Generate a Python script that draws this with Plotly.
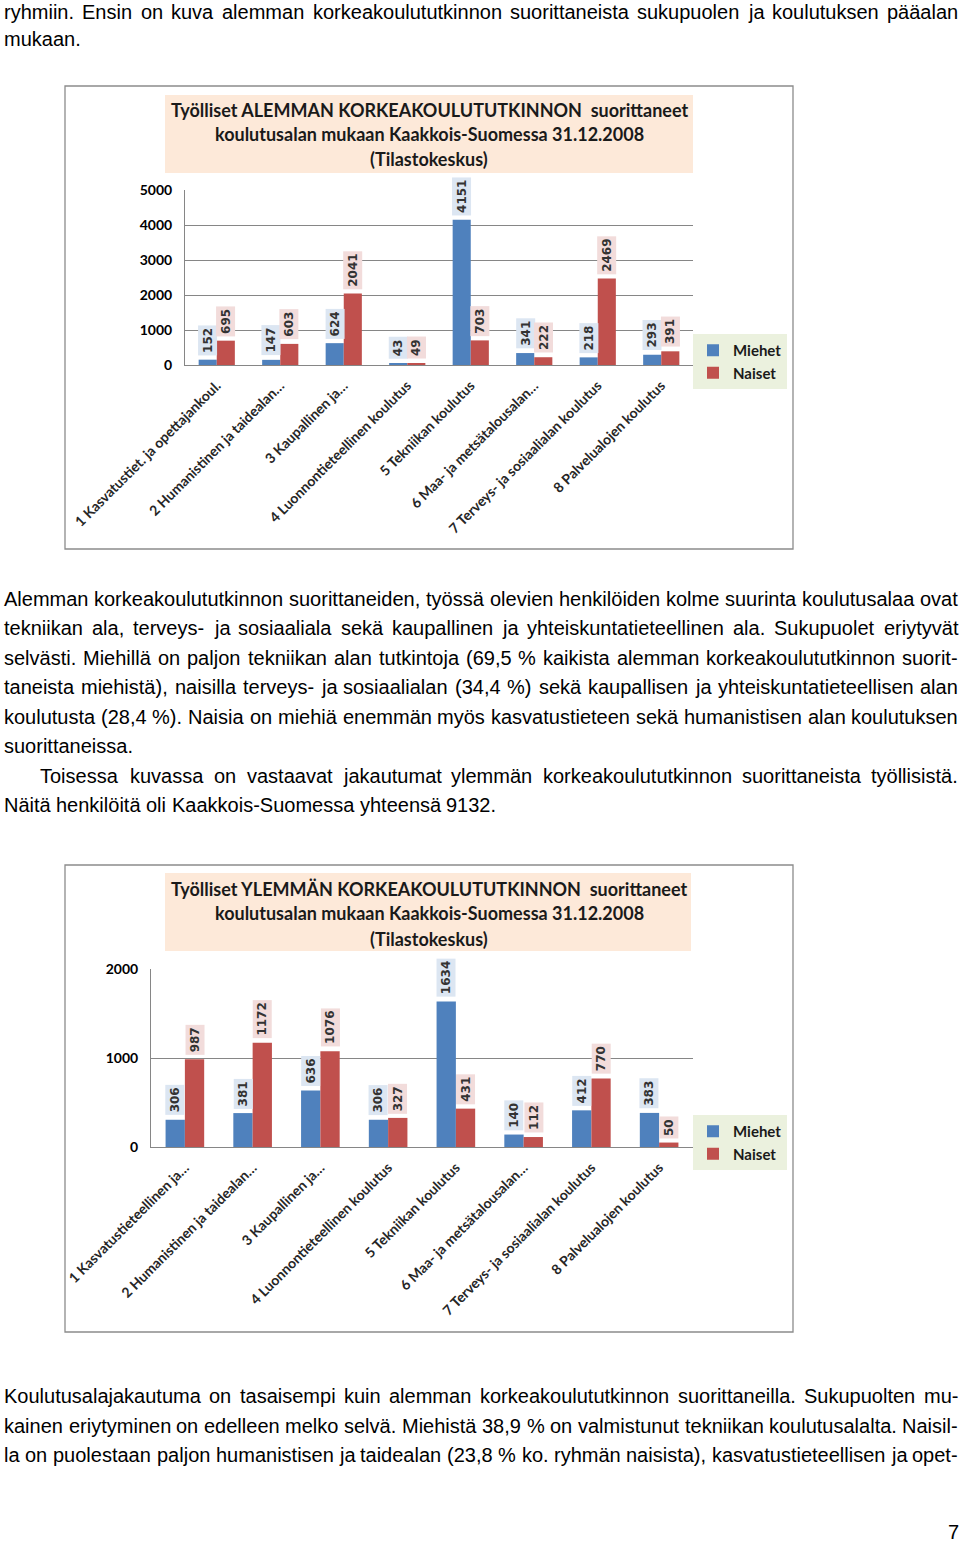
import plotly.graph_objects as go
from plotly.subplots import make_subplots

W, H = 960, 1543

# data
alalyhyt_alempi = ["1 Kasvatustiet. ja opettajankoul.", "2 Humanistinen ja taidealan…", "3 Kaupallinen ja…",
                   "4 Luonnontieteellinen koulutus", "5 Tekniikan koulutus", "6 Maa- ja metsätalousalan…",
                   "7 Terveys- ja sosiaalialan koulutus", "8 Palvelualojen koulutus"]
miehet_alempi = [152, 147, 624, 43, 4151, 341, 218, 293]
naiset_alempi = [695, 603, 2041, 49, 703, 222, 2469, 391]

alalyhyt_ylempi = ["1 Kasvatustieteellinen ja…", "2 Humanistinen ja taidealan…", "3 Kaupallinen ja…",
                   "4 Luonnontieteellinen koulutus", "5 Tekniikan koulutus", "6 Maa- ja metsätalousalan…",
                   "7 Terveys- ja sosiaalialan koulutus", "8 Palvelualojen koulutus"]
miehet_ylempi = [306, 381, 636, 306, 1634, 140, 412, 383]
naiset_ylempi = [987, 1172, 1076, 327, 431, 112, 770, 50]

otsikko_alempi = ["Työlliset ALEMMAN KORKEAKOULUTUTKINNON  suorittaneet",
                  "koulutusalan mukaan Kaakkois-Suomessa 31.12.2008", "(Tilastokeskus)"]
otsikko_ylempi = ["Työlliset YLEMMÄN KORKEAKOULUTUTKINNON  suorittaneet",
                  "koulutusalan mukaan Kaakkois-Suomessa 31.12.2008", "(Tilastokeskus)"]

# page text: (text, y centre, justified, indent)
rivit = [
    ("ryhmiin. Ensin on kuva alemman korkeakoulututkinnon suorittaneista sukupuolen ja koulutuksen pääalan", 12, True, 0),
    ("mukaan.", 39, False, 0),
    ("Alemman korkeakoulututkinnon suorittaneiden, työssä olevien henkilöiden kolme suurinta koulutusalaa ovat", 599, True, 0),
    ("tekniikan ala, terveys- ja sosiaaliala sekä kaupallinen ja yhteiskuntatieteellinen ala. Sukupuolet eriytyvät", 628, True, 0),
    ("selvästi. Miehillä on paljon tekniikan alan tutkintoja (69,5 % kaikista alemman korkeakoulututkinnon suorit-", 658, True, 0),
    ("taneista miehistä), naisilla terveys- ja sosiaalialan (34,4 %) sekä kaupallisen ja yhteiskuntatieteellisen alan", 687, True, 0),
    ("koulutusta (28,4 %). Naisia on miehiä enemmän myös kasvatustieteen sekä humanistisen alan koulutuksen", 717, True, 0),
    ("suorittaneissa.", 746, False, 0),
    ("Toisessa kuvassa on vastaavat jakautumat ylemmän korkeakoulututkinnon suorittaneista työllisistä.", 776, True, 36),
    ("Näitä henkilöitä oli Kaakkois-Suomessa yhteensä 9132.", 805, False, 0),
    ("Koulutusalajakautuma on tasaisempi kuin alemman korkeakoulututkinnon suorittaneilla. Sukupuolten mu-", 1396, True, 0),
    ("kainen eriytyminen on edelleen melko selvä. Miehistä 38,9 % on valmistunut tekniikan koulutusalalta. Naisil-", 1426, True, 0),
    ("la on puolestaan paljon humanistisen ja taidealan (23,8 % ko. ryhmän naisista), kasvatustieteellisen ja opet-", 1455, True, 0),
]

SININEN = "#4F81BD"
PUNAINEN = "#C0504D"


def px(x, y):
    return x / W, 1 - y / H


# Arial / Liberation Sans widths (per 1000 em)
LEVEYS = {' ': 278, '%': 889, '(': 333, ')': 333, ',': 278, '-': 333, '.': 278, ':': 278,
          'a': 556, 'b': 556, 'c': 500, 'd': 556, 'e': 556, 'f': 278, 'g': 556, 'h': 556, 'i': 222,
          'j': 222, 'k': 500, 'l': 222, 'm': 833, 'n': 556, 'o': 556, 'p': 556, 'q': 556, 'r': 333,
          's': 500, 't': 278, 'u': 556, 'v': 500, 'w': 722, 'x': 500, 'y': 500, 'z': 500, 'ä': 556,
          'ö': 556, 'A': 667, 'K': 667, 'M': 833, 'N': 722, 'S': 667, 'T': 611, 'E': 667, 'O': 778}


def leveys(s, koko):
    return sum(LEVEYS.get(c, 556) for c in s) * koko / 1000


fig = make_subplots(rows=2, cols=1)

fig.add_trace(go.Bar(x=alalyhyt_alempi, y=miehet_alempi, name="Miehet", marker_color=SININEN,
                     legend="legend", legendgroup="m"), row=1, col=1)
fig.add_trace(go.Bar(x=alalyhyt_alempi, y=naiset_alempi, name="Naiset", marker_color=PUNAINEN,
                     legend="legend", legendgroup="n"), row=1, col=1)
fig.add_trace(go.Bar(x=alalyhyt_ylempi, y=miehet_ylempi, name="Miehet", marker_color=SININEN,
                     legend="legend2", legendgroup="m2"), row=2, col=1)
fig.add_trace(go.Bar(x=alalyhyt_ylempi, y=naiset_ylempi, name="Naiset", marker_color=PUNAINEN,
                     legend="legend2", legendgroup="n2"), row=2, col=1)
fig.update_traces(marker_line_width=0)

akselifontti = dict(family="Lato", size=14, color="#000000", weight="bold")
kategoriafontti = dict(family="Lato", size=14, color="#262626", weight="bold")
x_yhteinen = dict(tickangle=-45, tickfont=kategoriafontti, showline=True, linecolor="#868686",
                  showgrid=False, ticks="", ticklabelstandoff=6, fixedrange=True, automargin=False)
y_yhteinen = dict(dtick=1000, showgrid=True, gridcolor="#868686", gridwidth=1, showline=True,
                  linecolor="#868686", zeroline=False, ticks="", tickfont=akselifontti,
                  ticklabelstandoff=9, fixedrange=True, automargin=False)

x1a, y1a = px(185, 365)
x1b, y1b = px(693, 190)
x2a, y2a = px(151, 1147)
x2b, y2b = px(693, 969)
fig.update_layout(
    xaxis=dict(domain=[x1a, x1b], **x_yhteinen),
    yaxis=dict(domain=[y1a, y1b], range=[0, 5000], **y_yhteinen),
    xaxis2=dict(domain=[x2a, x2b], **x_yhteinen),
    yaxis2=dict(domain=[y2a, y2b], range=[0, 2000], **y_yhteinen),
)

legendafontti = dict(family="Lato", size=15, color="#1a1a1a", weight="bold")
lx, ly = px(787, 334)
l2x, l2y = px(787, 1115)
fig.update_layout(
    legend=dict(x=lx, y=ly, xanchor="right", yanchor="top", bgcolor="#EBF1DE", font=legendafontti,
                tracegroupgap=6, itemwidth=30, traceorder="normal"),
    legend2=dict(x=l2x, y=l2y, xanchor="right", yanchor="top", bgcolor="#EBF1DE", font=legendafontti,
                 tracegroupgap=6, itemwidth=30, traceorder="normal"),
)

shapes = []
for (bx0, by0, bx1, by1) in [(65, 86, 793, 549), (65, 865, 793, 1332)]:
    a, b = px(bx0, by0)
    c, d = px(bx1, by1)
    shapes.append(dict(type="rect", xref="paper", yref="paper", x0=a, y0=b, x1=c, y1=d,
                       line=dict(color="#8c8c8c", width=1.3), layer="below"))
for (bx0, by0, bx1, by1) in [(165, 95, 693, 173), (165, 873, 691, 951)]:
    a, b = px(bx0, by0)
    c, d = px(bx1, by1)
    shapes.append(dict(type="rect", xref="paper", yref="paper", x0=a, y0=b, x1=c, y1=d,
                       fillcolor="#FDE9D9", line=dict(width=0), layer="below"))

annotations = []

# chart titles
for rivit_otsikko, ykoord in [(otsikko_alempi, [110, 134, 159]), (otsikko_ylempi, [889, 913, 939])]:
    for teksti, yy in zip(rivit_otsikko, ykoord):
        a, b = px(429, yy)
        annotations.append(dict(x=a, y=b, xref="paper", yref="paper", text=teksti, showarrow=False,
                                xanchor="center", yanchor="middle",
                                font=dict(family="Lato", size=18, color="#1a1a1a", weight="bold")))

# data labels
arvofontti = dict(family="DejaVu Sans", size=12, color="#333333", weight="bold")
for xr, yr, mies, nainen, siirto in [("x", "y", miehet_alempi, naiset_alempi, 9),
                                     ("x2", "y2", miehet_ylempi, naiset_ylempi, 9.8)]:
    for i in range(len(mies)):
        for arvo, s, tausta in [(mies[i], -siirto, "#DCE6F2"), (nainen[i], siirto, "#F2DCDB")]:
            annotations.append(dict(x=i, y=arvo, xref=xr, yref=yr, xshift=s, yshift=4, text=str(arvo),
                                    showarrow=False, textangle=-90, xanchor="center", yanchor="bottom",
                                    bgcolor=tausta, borderpad=2, font=arvofontti))

# page text, justified word by word
KOKO = 20
VASEN, OIKEA = 4, 958
tekstifontti = dict(family="Liberation Sans", size=KOKO, color="#000000")
for teksti, yy, tasattu, sisennys in rivit:
    sanat = teksti.split(" ")
    lev = [leveys(s, KOKO) for s in sanat]
    if tasattu and len(sanat) > 1:
        vali = (OIKEA - VASEN - sisennys - sum(lev)) / (len(sanat) - 1)
    else:
        vali = leveys(" ", KOKO)
    xx = VASEN + sisennys
    for s, l in zip(sanat, lev):
        a, b = px(xx, yy)
        annotations.append(dict(x=a, y=b, xref="paper", yref="paper", text=s, showarrow=False,
                                xanchor="left", yanchor="middle", borderpad=0, borderwidth=0,
                                font=tekstifontti))
        xx += l + vali

a, b = px(959, 1532)
annotations.append(dict(x=a, y=b, xref="paper", yref="paper", text="7", showarrow=False,
                        xanchor="right", yanchor="middle", borderpad=0, borderwidth=0, font=tekstifontti))

fig.update_layout(
    width=W, height=H,
    margin=dict(l=0, r=0, t=0, b=0, autoexpand=False),
    paper_bgcolor="white", plot_bgcolor="white",
    barmode="group", bargap=0.43, bargroupgap=0,
    shapes=shapes, annotations=annotations,
)

fig.write_html("out.html", config={"displayModeBar": False},
               post_script="document.body.style.margin = '0px';")
